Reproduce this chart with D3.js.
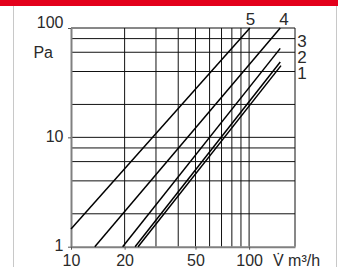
<!DOCTYPE html>
<html>
<head>
<meta charset="utf-8">
<script src="https://cdn.jsdelivr.net/npm/d3@7"></script>
<style>
body { margin: 0; background: #fff; }
text { font-family: "Liberation Sans", Arial, sans-serif; fill: #2a2a2a; }
</style>
</head>
<body>
<script>
// curve names and their two end points (V in m3/h, p in Pa)
var curves = ["1", "2", "3", "4", "5"];
var vStart = [23.8, 22.9, 19.5, 13.6, 10];
var pStart = [1, 1, 1, 1, 1.45];
var vEnd = [151, 149.6, 149.6, 149.6, 101];
var pEnd = [45.3, 48.8, 65.1, 100, 100];

// grid and tick values
var xGrid = [20, 30, 40, 50, 60, 70, 80, 90, 100];
var yGrid = [2, 4, 6, 8, 10, 20, 40, 60, 80, 100];
var xTicks = [10, 20, 50, 100];
var yTicks = [1, 10, 100];
var xMax = 181;

var W = 338, H = 267;
var svg = d3.select("body").append("svg").attr("width", W).attr("height", H);

var x = d3.scaleLog().domain([10, xMax]).range([71, 295]);
var y = d3.scaleLog().domain([1, 100]).range([246.7, 28]);

// red band and frame
svg.append("rect").attr("x", 0).attr("y", 0).attr("width", W).attr("height", 6).style("fill", "#e3001b");
svg.append("line").attr("x1", 13.5).attr("x2", 13.5).attr("y1", 6).attr("y2", H).style("stroke", "#c8c8c8");
svg.append("line").attr("x1", 336.5).attr("x2", 336.5).attr("y1", 6).attr("y2", H).style("stroke", "#c8c8c8");

// grid
var grid = svg.append("g").style("stroke", "#111").style("stroke-width", 1);
grid.selectAll(".vx").data(xGrid).enter().append("line")
    .attr("x1", function(d){ return x(d); }).attr("x2", function(d){ return x(d); })
    .attr("y1", y(100)).attr("y2", y(1));
grid.selectAll(".hy").data(yGrid).enter().append("line")
    .attr("x1", x(10)).attr("x2", x(xMax))
    .attr("y1", function(d){ return y(d); }).attr("y2", function(d){ return y(d); });
grid.append("line").attr("x1", x(xMax)).attr("x2", x(xMax)).attr("y1", y(100)).attr("y2", y(1));

// axes
var yAxis = svg.append("g").attr("transform", "translate(" + x(10) + ",0)")
    .call(d3.axisLeft(y).tickValues(yTicks).tickFormat(d3.format("d")).tickSize(3).tickSizeOuter(0).tickPadding(4.5));
var xAxis = svg.append("g").attr("transform", "translate(0," + y(1) + ")")
    .call(d3.axisBottom(x).tickValues(xTicks).tickFormat(d3.format("d")).tickSize(3).tickSizeOuter(0).tickPadding(4.6));
[yAxis, xAxis].forEach(function(a){
    a.select(".domain").style("stroke", "#808080").style("stroke-width", 2);
    a.selectAll(".tick line").style("stroke", "#555");
    a.selectAll("text").style("font-size", "16px").style("fill", "#2a2a2a")
        .style("font-family", "'Liberation Sans', Arial, sans-serif");
});
yAxis.selectAll(".tick text").attr("dy", function(d){ return d == 100 ? "-0.05em" : "0.25em"; });

// unit labels
svg.append("text").attr("x", 53).attr("y", 58).attr("text-anchor", "end").style("font-size", "16px").text("Pa");
svg.append("text").attr("x", 273).attr("y", 266).style("font-size", "16px").text("V\u0307 m\u00b3/h");

// curves
svg.selectAll(".curve").data(curves).enter().append("line")
    .attr("x1", function(d, i){ return x(vStart[i]); })
    .attr("y1", function(d, i){ return y(pStart[i]); })
    .attr("x2", function(d, i){ return x(vEnd[i]); })
    .attr("y2", function(d, i){ return y(pEnd[i]); })
    .style("stroke", "#000").style("stroke-width", 1.5);

// curve numbers: 4 and 5 above the top, 1-3 at the right edge
var labelPos = { "5": [250.5, 25], "4": [284, 25], "3": [302, 47], "2": [302, 63], "1": [302, 79] };
svg.selectAll(".lab").data(curves).enter().append("text")
    .attr("x", function(d){ return labelPos[d][0]; })
    .attr("y", function(d){ return labelPos[d][1]; })
    .attr("text-anchor", "middle")
    .style("font-size", "17px")
    .text(function(d){ return d; });
</script>
</body>
</html>
